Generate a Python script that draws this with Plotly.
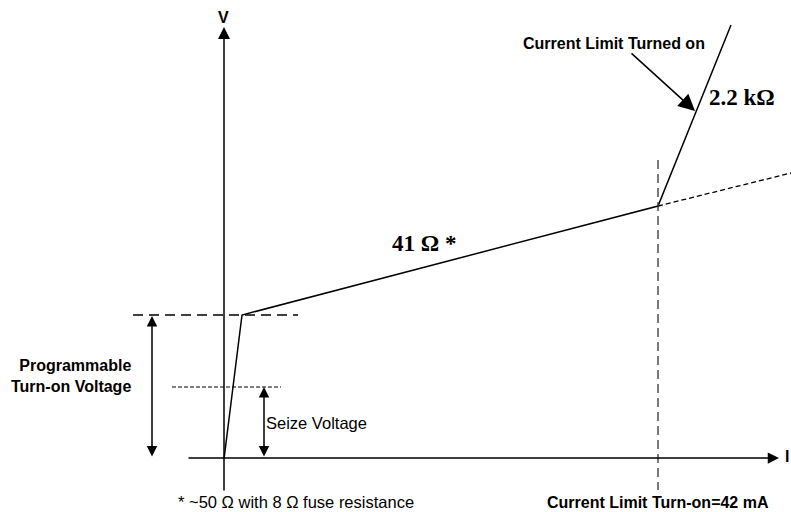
import plotly.graph_objects as go

# ---- diagram geometry (drawing units = page pixels, y grows downward) ----
# I-V characteristic: origin -> turn-on knee -> current-limit point -> 2.2 kOhm slope
iv_x = [224, 242, 658, 731]
iv_y = [459, 315, 206, 25]
# dotted continuation of the 41 ohm slope beyond the current limit
ext_x = [658, 791]
ext_y = [206, 173]
# axes
axis_origin = (224, 458)
x_axis_start, x_axis_end = 187, 779
y_axis_bottom, y_axis_top = 492, 27
# reference levels
turn_on_level = 315
turn_on_span = [133, 298]
seize_level = 387
seize_span = [172, 281]
limit_current_x = 658
limit_span = [160, 490]
# dimension arrows
prog_arrow_x = 152
seize_arrow_x = 264
# callout arrow
callout_tail = (630, 52)
callout_head = (695, 111)

# ---- texts ----
labels_sans_bold = [
    ("V", 223, 17, "center"),
    ("I", 783, 456, "left"),
    ("Current Limit Turned on", 614, 43, "center"),
    ("Programmable<br>Turn-on Voltage", 133, 376, "right"),
    ("Current Limit Turn-on=42 mA", 658, 502, "center"),
]
labels_sans = [
    ("Seize Voltage", 264, 423, "left"),
    ("* ~50 \u03a9 with 8 \u03a9 fuse resistance", 176, 502, "left"),
]
labels_serif_bold = [
    ("41 \u03a9 *", 424, 243, "center"),
    ("2.2 k\u03a9", 742, 97, "center"),
]

SANS = "Liberation Sans, Arial, sans-serif"
SERIF = "Liberation Serif, Times New Roman, serif"
BLACK = "#000000"
PAGE_W, PAGE_H = 791, 512

fig = go.Figure()
fig.add_trace(go.Scatter(x=iv_x, y=iv_y, mode="lines",
                         line=dict(color=BLACK, width=1.5), hoverinfo="skip"))
fig.add_trace(go.Scatter(x=ext_x, y=ext_y, mode="lines",
                         line=dict(color=BLACK, width=1.3, dash="5px,3px"), hoverinfo="skip"))
fig.add_trace(go.Scatter(x=turn_on_span, y=[turn_on_level] * 2, mode="lines",
                         line=dict(color=BLACK, width=1.3, dash="10px,6px"), hoverinfo="skip"))
fig.add_trace(go.Scatter(x=seize_span, y=[seize_level] * 2, mode="lines",
                         line=dict(color=BLACK, width=1, dash="4px,2px"), hoverinfo="skip"))
fig.add_trace(go.Scatter(x=[limit_current_x] * 2, y=limit_span, mode="lines",
                         line=dict(color="#333333", width=1.3, dash="9px,5px"), hoverinfo="skip"))


def arrow(x0, y0, x1, y1, size=1.6, width=1.5, both=False):
    fig.add_annotation(x=x1, y=y1, ax=x0, ay=y0, xref="x", yref="y", axref="x", ayref="y",
                       showarrow=True, arrowhead=2, arrowsize=size, arrowwidth=width,
                       arrowcolor=BLACK, startarrowhead=2, startarrowsize=size,
                       arrowside="end+start" if both else "end", standoff=0, startstandoff=0,
                       text="")


arrow(x_axis_start, axis_origin[1], x_axis_end, axis_origin[1], size=1.5)
arrow(axis_origin[0], y_axis_bottom, axis_origin[0], y_axis_top, size=1.6)
arrow(prog_arrow_x, 458, prog_arrow_x, turn_on_level + 1, size=1.4, both=True)
arrow(seize_arrow_x, 458, seize_arrow_x, seize_level, size=1.4, both=True)
arrow(callout_tail[0], callout_tail[1], callout_head[0], callout_head[1], size=2.2)

for t, x, y, anc in labels_sans_bold:
    fig.add_annotation(x=x, y=y, text=t, showarrow=False, xanchor=anc, yanchor="middle",
                       align=anc, font=dict(family=SANS, size=16, color=BLACK, weight="bold"))
for t, x, y, anc in labels_sans:
    fig.add_annotation(x=x, y=y, text=t, showarrow=False, xanchor=anc, yanchor="middle",
                       font=dict(family=SANS, size=16.5, color=BLACK))
for t, x, y, anc in labels_serif_bold:
    fig.add_annotation(x=x, y=y, text=t, showarrow=False, xanchor=anc, yanchor="middle",
                       font=dict(family=SERIF, size=23, color=BLACK, weight="bold"))

fig.update_layout(
    width=PAGE_W, height=PAGE_H, autosize=False,
    margin=dict(l=0, r=0, t=0, b=0),
    paper_bgcolor="white", plot_bgcolor="white",
    showlegend=False,
    xaxis=dict(range=[0, PAGE_W], visible=False, fixedrange=True),
    yaxis=dict(range=[PAGE_H, 0], visible=False, fixedrange=True),
)

# remove the default page margin so the figure fills the window exactly
page_fix = ("document.documentElement.style.overflow='hidden';"
            "document.body.style.margin='0';document.body.style.padding='0';"
            "document.body.style.overflow='hidden';")

fig.write_html("out.html", post_script=page_fix,
               config={"displayModeBar": False, "staticPlot": True})
